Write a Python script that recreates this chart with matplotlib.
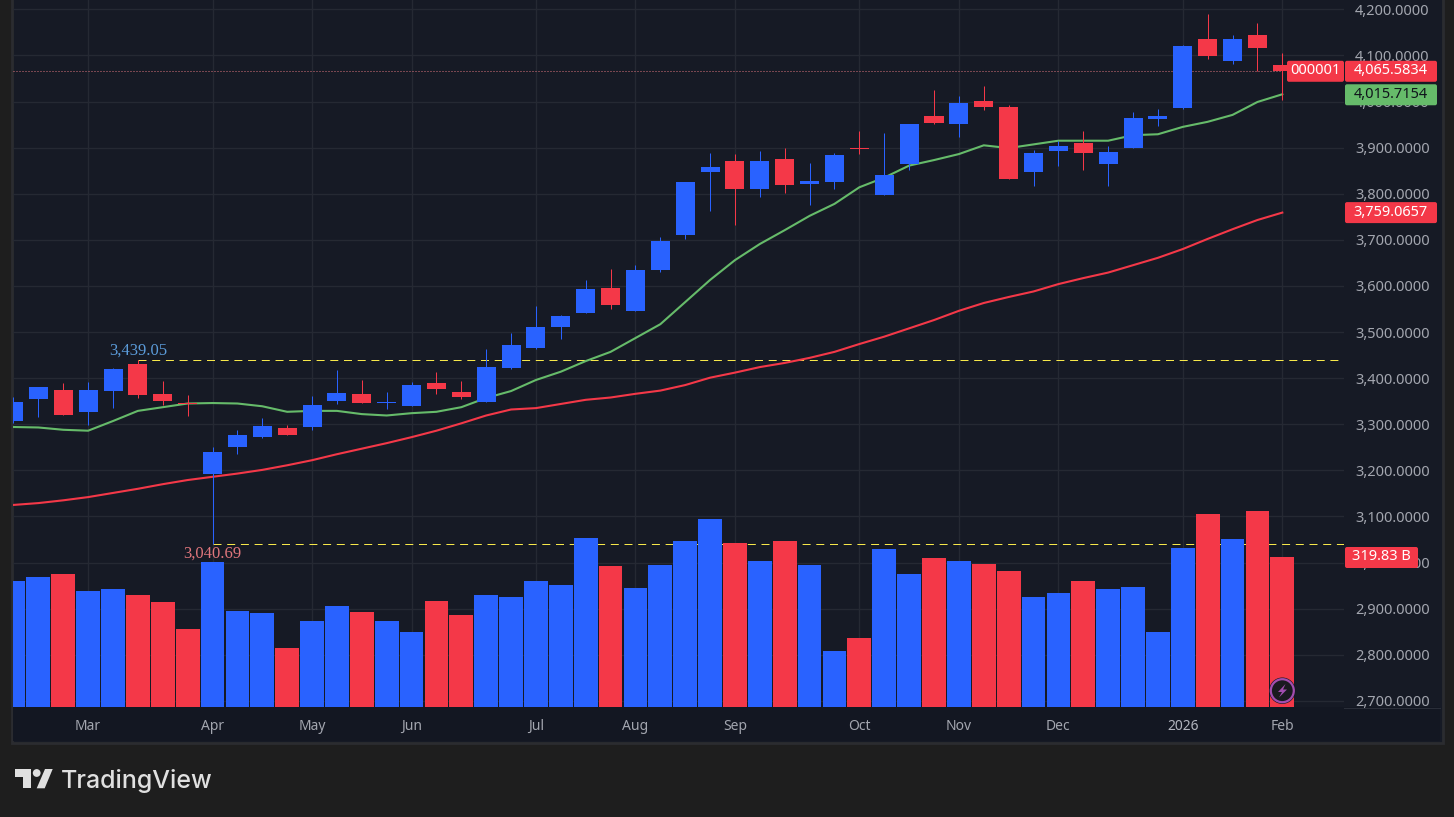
import matplotlib
matplotlib.use('Agg')
import matplotlib.pyplot as plt
from matplotlib.patches import Rectangle, Polygon, Circle, FancyBboxPatch

W, H = 1454, 817
plt.rcParams['font.family'] = ['Noto Sans', 'DejaVu Sans']

#weekly candles
opens = [3307,3355,3374,3326,3372,3431,3366,3345,3192,3251,3272,3292,3294,3350,3366,3346,3340,3389,3370,3348,3422,3465,3511,3541,3595,3546,
         3634,3710,3847,3871,3810,3875,3821,3825,3899,3797,3864,3969,3951,4001,3988,3847,3893,3910,3864,3899,3962,3986,4136,4088,4144,4079]
closes = [3348,3381,3320,3374,3420,3363,3350,3343,3240,3277,3296,3277,3342,3368,3346,3348,3385,3376,3359,3424,3472,3511,3535,3593,3559,3634,
          3697,3825,3858,3810,3871,3819,3828,3884,3898,3841,3951,3953,3997,3988,3832,3888,3903,3888,3890,3964,3969,4120,4099,4136,4116,4065.58]
highs = [3359,3381,3389,3392,3422,3439.05,3394,3363,3251,3287,3313,3298,3361,3418,3396,3370,3392,3413,3394,3463,3498,3556,3537,3613,3637,3645,
         3706,3825,3888,3886,3893,3899,3867,3888,3936,3932,3951,4025,4012,4034,3992,3895,3914,3936,3903,3977,3984,4122,4190,4144,4170,4105]
lows = [3302,3316,3320,3298,3335,3357,3342,3318,3040.69,3235,3270,3277,3288,3344,3346,3333,3340,3366,3355,3348,3420,3463,3485,3541,3550,3546,
        3630,3702,3762,3732,3793,3802,3775,3810,3886,3797,3851,3951,3923,3982,3832,3817,3860,3851,3817,3899,3947,3984,4092,4081,4066,4004]
ma_fast = [3294,3293,3288,3286,3307,3329,3337,3345,3346,3345,3339,3327,3329,3329,3322,3319,3324,3327,3337,3357,3372,3396,3414,3437,3457,3487,
           3517,3565,3613,3656,3691,3721,3752,3778,3814,3835,3861,3873,3886,3905,3899,3907,3915,3915,3915,3927,3929,3945,3956,3971,3999,4015.72]
ma_slow = [3125,3129,3135,3142,3151,3160,3170,3179,3186,3193,3201,3211,3222,3235,3247,3259,3272,3286,3302,3319,3332,3335,3344,3353,3358,3366,
           3373,3385,3401,3412,3424,3433,3444,3457,3474,3490,3508,3526,3546,3563,3576,3588,3604,3617,3629,3645,3661,3680,3702,3723,3743,3759.07]
#volume in billions
volumes = [268.6,277.2,283.6,247.3,251.6,238.8,223.9,166.3,309.2,204.7,200.4,125.8,183.4,215.3,202.5,183.4,159.9,226,196.2,238.8,234.5,268.6,
           260.1,360.3,300.6,253.7,302.8,353.9,400.8,349.7,311.3,353.9,302.8,119.4,147.1,336.9,283.6,317.7,311.3,304.9,290,234.5,243,268.6,
           251.6,255.9,159.9,339,411.5,358.2,417.9,319.83]
price_ticks = [2700,2800,2900,3000,3100,3200,3300,3400,3500,3600,3700,3800,3900,4000,4100,4200]
month_pos = [3,8,12,16,21,25,29,34,38,42,47,51]
month_labels = ['Mar','Apr','May','Jun','Jul','Aug','Sep','Oct','Nov','Dec','2026','Feb']
period_high = 3439.05
period_low = 3040.69
last_close = 4065.5834
last_fast = 4015.7154
last_slow = 3759.0657
last_volume = 319.83

UP = '#2962ff'
DOWN = '#f43848'
GREEN = '#66bb6a'
PANE = '#161a25'
GRID = '#252933'
TXT = '#a3a6af'
PX = 0.72  # one pixel in points at dpi 100

fig = plt.figure(figsize=(W/100, H/100), dpi=100, facecolor='#1e1e1e')
x = list(range(len(closes)))
colors = [UP if c >= o else DOWN for o, c in zip(opens, closes)]

# pixel space layers for the frame and the tags
back = fig.add_axes([0, 0, 1, 1], zorder=0)
back.set_xlim(0, W); back.set_ylim(H, 0); back.axis('off')
back.add_patch(Rectangle((11.5, -2), 1431, 745, fc=PANE, ec='#2b2c30', lw=2))
back.add_patch(Rectangle((13, 707), 1427, 33.5, fc='#131722', ec='none'))
back.plot([1344, 1440], [707.5, 707.5], color='#2a2e39', lw=PX)

pos = [13/W, (H-707)/H, 1331/W, 707/H]
xlim = (-0.02, 53.48)
ylim = (2686.7, 4220.2)

# grid, axis labels and the dashed high/low lines go under the volume
ax = fig.add_axes(pos, zorder=1, facecolor='none')
ax.set_xlim(xlim); ax.set_ylim(ylim)
ax.yaxis.tick_right()
ax.set_yticks(price_ticks, [f'{p:,.4f}' for p in price_ticks])
ax.set_xticks(month_pos, month_labels)
ax.tick_params(axis='y', length=0, pad=8, labelsize=10.5, labelcolor=TXT)
ax.tick_params(axis='x', length=0, pad=8.5, labelsize=10, labelcolor=TXT)
for lab in ax.get_xticklabels():
    if lab.get_text() == '2026':
        lab.set_fontweight('bold')
        lab.set_color('#b2b5be')
ax.grid(True, color=GRID, lw=1.0)
ax.set_axisbelow(True)
for s in ax.spines.values():
    s.set_visible(False)
ax.hlines(period_high, 5, xlim[1], color='#f7e84a', lw=PX, linestyles=(0, (8, 5.7)))
ax.hlines(period_low, 8, xlim[1], color='#f7e84a', lw=PX, linestyles=(0, (8, 5.7)))

# volume
ax_vol = fig.add_axes(pos, zorder=2, facecolor='none')
ax_vol.set_xlim(xlim); ax_vol.set_ylim(0, 707*2.132)
ax_vol.axis('off')
ax_vol.bar(x, volumes, width=0.955, color=colors, linewidth=0)

# candles and averages
ax_top = fig.add_axes(pos, zorder=3, facecolor='none')
ax_top.set_xlim(xlim); ax_top.set_ylim(ylim)
ax_top.axis('off')
ax_top.plot(x, ma_slow, color=DOWN, lw=1.5, zorder=2)
ax_top.plot(x, ma_fast, color=GREEN, lw=1.5, zorder=2)
ax_top.vlines(x, lows, highs, color=colors, lw=PX, zorder=3)
ax_top.bar(x, [abs(c-o) for o, c in zip(opens, closes)], bottom=[min(o, c) for o, c in zip(opens, closes)],
           width=0.764, color=colors, linewidth=0, zorder=4)
ax_top.hlines(last_close, xlim[0], 51, color='#d9727c', lw=PX, linestyles=(0, (1, 2)), zorder=1)
ax_top.text(5, period_high+3, f'{period_high:,.2f}', color='#5b9bd9', family='Liberation Serif', fontsize=12,
            ha='center', va='bottom')
ax_top.text(8, period_low-4, f'{period_low:,.2f}', color='#e0767c', family='Liberation Serif', fontsize=12,
            ha='center', va='top')

# tags and logo on top in pixels
over = fig.add_axes([0, 0, 1, 1], zorder=5, facecolor='none')
over.set_xlim(0, W); over.set_ylim(H, 0); over.axis('off')

def price_y(p):
    return H - ax.transData.transform((0, p))[1]

def tag(cy, x0, x1, text, fc, tc='white', tx=None):
    over.add_patch(FancyBboxPatch((x0+1, cy-9.5), x1-x0-2, 19, boxstyle='round,pad=1,rounding_size=2',
                                  fc=fc, ec='none'))
    over.text((x0+x1)/2 if tx is None else tx, cy-0.5, text, color=tc, fontsize=10.5, ha='center', va='center')

tag(price_y(last_close), 1287, 1344, '000001', DOWN)
tag(price_y(last_close), 1345, 1437, f'{last_close:,.4f}', DOWN)
tag(price_y(last_fast)+0.5, 1345, 1437, f'{last_fast:,.4f}', GREEN, tc='#10141c')
tag(price_y(last_slow), 1345, 1437, f'{last_slow:,.4f}', DOWN)
tag(557.5, 1345, 1418, f'{last_volume:.2f} B', DOWN)

# lightning badge
over.add_patch(Circle((1282.3, 690.7), 13.2, fc='#131722', ec='none'))
over.add_patch(Circle((1282.3, 690.7), 11.5, fc='#1a1a20', ec='#a24db0', lw=1.6))
over.add_patch(Polygon([(1285.5, 684), (1278, 692), (1282, 692), (1279, 697.5), (1287, 689.5), (1283, 689.5)],
                       fc='#a24db0', ec='none'))

# logo
LOGO = '#e0e0e0'
over.add_patch(Polygon([(15.3, 769), (30.7, 769), (30.7, 788.3), (22.7, 788.3), (22.7, 776.7), (15.3, 776.7)], fc=LOGO, ec='none'))
over.add_patch(Circle((36.7, 773), 3.9, fc=LOGO, ec='none'))
over.add_patch(Polygon([(45, 769), (52.7, 769), (44.7, 788.3), (36.7, 788.3)], fc=LOGO, ec='none'))
over.text(61, 788.3, 'TradingView', color=LOGO, family='Inter', fontsize=18, fontweight='medium', ha='left', va='baseline')

fig.savefig('out.png', dpi=100, facecolor=fig.get_facecolor())
